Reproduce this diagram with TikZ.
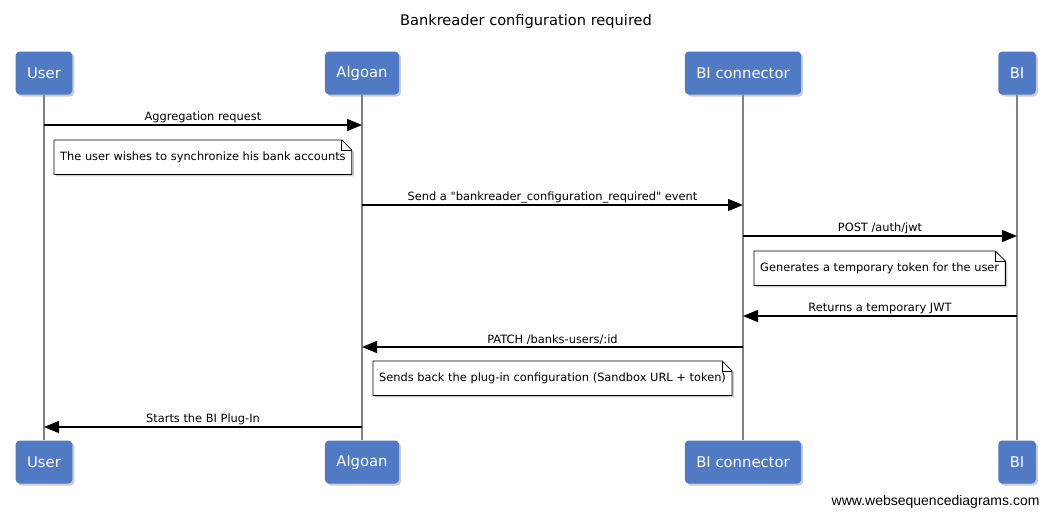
\documentclass[tikz,border=0pt]{standalone}
\usepackage{fontspec}
\setmainfont{DejaVu Sans}[Ligatures=TeXOff]
\newfontfamily\footfont{Liberation Sans}
\usetikzlibrary{arrows.meta, shadows, backgrounds}
\definecolor{actorfill}{RGB}{80, 122, 196}
\definecolor{lifecolor}{RGB}{128, 128, 128}

\begin{document}
\begin{tikzpicture}[
    x=1pt, y=-1pt,
    font=\fontsize{11.4}{13}\selectfont,
    % Styles
    actorbox/.style={
        rectangle,
        rounded corners=4pt,
        fill=actorfill,
        text=white,
        minimum height=43pt,
        inner xsep=11.5pt,
        drop shadow={shadow xshift=2pt, shadow yshift=-2pt, opacity=0.4},
        font=\fontsize{14.8}{16}\selectfont
    },
    lifeline/.style={
        color=lifecolor,
        line width=1.6pt
    },
    msg/.style={
        -{Triangle[length=15pt, width=12pt]},
        line width=1.5pt,
        color=black
    },
    msglabel/.style={
        above,
        inner sep=1.5pt
    },
    notebox/.style={
        rectangle,
        anchor=north west,
        minimum height=34pt,
        inner xsep=6pt
    },
    notefold/.style={
        draw=black,
        fill=white,
        line width=0.8pt,
        drop shadow={shadow xshift=2pt, shadow yshift=-2pt, opacity=0.4}
    }
]
\useasboundingbox (0,0) rectangle (1051,517);

% --- Title ---
\node (title) at (526,21) [font=\fontsize{14.6}{16}\selectfont] {Bankreader configuration required};

% --- Participants (top) ---
\node (user_top) [actorbox] at (44,73) {User};
\node (algoan_top) [actorbox] at (362,73) {Algoan};
\node (bic_top) [actorbox] at (743,73) {BI connector};
\node (bi_top) [actorbox] at (1017,73) {BI};

% --- Participants (bottom) ---
\node (user_bot) [actorbox] at (44,462) {User};
\node (algoan_bot) [actorbox] at (362,462) {Algoan};
\node (bic_bot) [actorbox] at (743,462) {BI connector};
\node (bi_bot) [actorbox] at (1017,462) {BI};

% --- Lifelines ---
\draw [lifeline] (user_top) -- (user_bot);
\draw [lifeline] (algoan_top) -- (algoan_bot);
\draw [lifeline] (bic_top) -- (bic_bot);
\draw [lifeline] (bi_top) -- (bi_bot);

% --- Message rows ---
\coordinate (m1) at (0,125);
\coordinate (m2) at (0,205);
\coordinate (m3) at (0,236);
\coordinate (m4) at (0,316);
\coordinate (m5) at (0,347);
\coordinate (m6) at (0,427);

% --- Messages ---
\draw [msg] (user_top |- m1) -- node[msglabel] {Aggregation request} (algoan_top |- m1);
\draw [msg] (algoan_top |- m2) -- node[msglabel] {Send a "bankreader\_configuration\_required" event} (bic_top |- m2);
\draw [msg] (bic_top |- m3) -- node[msglabel] {POST /auth/jwt} (bi_top |- m3);
\draw [msg] (bi_top |- m4) -- node[msglabel] {Returns a temporary JWT} (bic_top |- m4);
\draw [msg] (bic_top |- m5) -- node[msglabel] {PATCH /banks-users/:id} (algoan_top |- m5);
\draw [msg] (algoan_top |- m6) -- node[msglabel] {Starts the BI Plug-In} (user_top |- m6);

% --- Notes ---
\node (note1) [notebox] at (54,140) {The user wishes to synchronize his bank accounts};
\node (note2) [notebox] at (754,251) {Generates a temporary token for the user};
\node (note3) [notebox] at (373,361) {Sends back the plug-in configuration (Sandbox URL + token)};

% note outlines with folded corner
\begin{scope}[on background layer]
\foreach \n in {note1, note2, note3} {
    \path [notefold] (\n.south west) -- (\n.south east) -- ([yshift=-10pt]\n.north east)
        -- ([xshift=-10pt]\n.north east) -- (\n.north west) -- cycle;
    \draw [line width=0.8pt] ([xshift=-10pt]\n.north east) |- ([yshift=-10pt]\n.north east);
}
\end{scope}

% --- Footer ---
\node (footer) [anchor=east, font=\footfont\fontsize{14}{16}\selectfont] at (1043,502) {www.websequencediagrams.com};

\end{tikzpicture}
\end{document}
